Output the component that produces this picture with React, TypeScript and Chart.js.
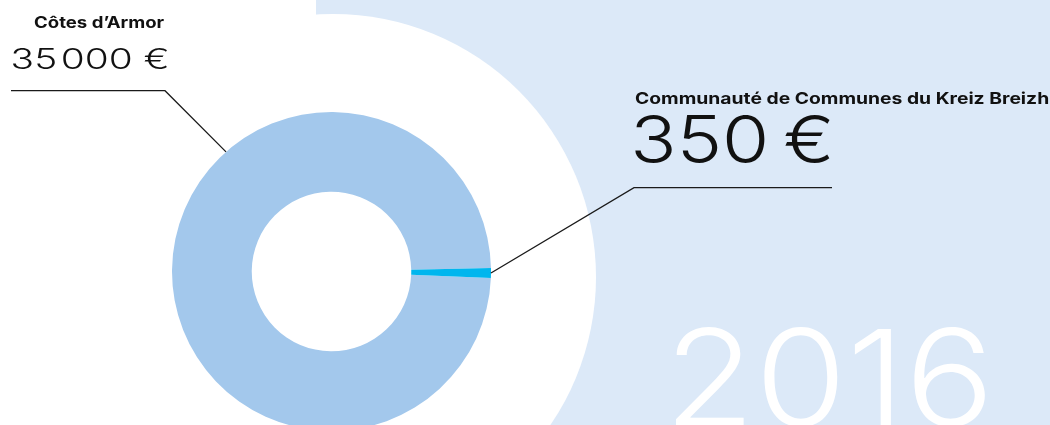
import React, { useEffect, useRef } from "react";
import { Chart, registerables } from "chart.js";

Chart.register(...registerables);

// ---- data ----
const categories = ["Côtes d’Armor", "Communauté de Communes du Kreiz Breizh"];
const amounts = [35000, 350];
const amountLabels = ["35\u200A000 €", "350\u2009€"];
const yearLabel = "2016";
const sliceColors = ["#a3c8ec", "#00b6ee"];

const W = 1050;
const H = 425;
const CANVAS_H = 432;
const BG_BLUE = "#dce9f8";
const LINE = "#1a1a1a";
const LIGHT = '"Inter", "Roboto", "Liberation Sans", sans-serif';
const BOLD = '"Inter", "Liberation Sans", Arial, sans-serif';

// draws text so that its digit/cap ink spans [left,right] x [top,baseline]
function drawFit(
  ctx: CanvasRenderingContext2D,
  text: string,
  weight: string,
  family: string,
  left: number,
  right: number,
  top: number,
  baseline: number,
  color: string
) {
  ctx.save();
  ctx.font = `${weight} 100px ${family}`;
  const probe = ctx.measureText("0");
  const size = (100 * (baseline - top)) / probe.actualBoundingBoxAscent;
  ctx.font = `${weight} ${size}px ${family}`;
  ctx.fillStyle = color;
  ctx.textAlign = "left";
  ctx.textBaseline = "alphabetic";
  const m = ctx.measureText(text);
  const inkW = m.actualBoundingBoxRight + m.actualBoundingBoxLeft;
  const sx = inkW > 0 ? (right - left) / inkW : 1;
  ctx.translate(left, baseline);
  ctx.scale(sx, 1);
  ctx.fillText(text, m.actualBoundingBoxLeft, 0);
  ctx.restore();
}

function drawBold(
  ctx: CanvasRenderingContext2D,
  text: string,
  size: number,
  left: number,
  right: number,
  baseline: number
) {
  ctx.save();
  ctx.font = `bold ${size}px ${BOLD}`;
  ctx.fillStyle = "#111111";
  ctx.textAlign = "left";
  ctx.textBaseline = "alphabetic";
  const m = ctx.measureText(text);
  const inkW = m.actualBoundingBoxRight + m.actualBoundingBoxLeft;
  const sx = inkW > 0 ? (right - left) / inkW : 1;
  ctx.translate(left, baseline);
  ctx.scale(sx, 1);
  ctx.fillText(text, m.actualBoundingBoxLeft, 0);
  ctx.restore();
}

const decorPlugin = {
  id: "decor",
  beforeDraw(chart: any) {
    const ctx: CanvasRenderingContext2D = chart.ctx;
    ctx.save();
    ctx.fillStyle = "#ffffff";
    ctx.fillRect(0, 0, chart.width, chart.height);
    ctx.fillStyle = BG_BLUE;
    ctx.fillRect(316, 0, chart.width - 316, chart.height);
    const arc = chart.getDatasetMeta(0).data[0];
    ctx.fillStyle = "#ffffff";
    ctx.beginPath();
    ctx.arc(arc.x + 1.5, arc.y + 5.5, 263, 0, Math.PI * 2);
    ctx.fill();
    ctx.restore();
    drawFit(ctx, yearLabel, "340", LIGHT, 675, 985, 327, 426, "#ffffff");
  },
  afterDatasetsDraw(chart: any) {
    const ctx: CanvasRenderingContext2D = chart.ctx;
    const meta = chart.getDatasetMeta(0);
    const a0 = meta.data[0];
    const a1 = meta.data[1];
    const r = a0.outerRadius;

    // anchor points on the ring's outer edge
    const ang0 = (-131.4 * Math.PI) / 180;
    const p0x = a0.x + Math.cos(ang0) * r;
    const p0y = a0.y + Math.sin(ang0) * r;
    const ang1 = (a1.startAngle + a1.endAngle) / 2;
    const p1x = a1.x + Math.cos(ang1) * r;
    const p1y = a1.y + Math.sin(ang1) * r;

    ctx.save();
    ctx.strokeStyle = LINE;
    ctx.lineWidth = 1.3;
    ctx.beginPath();
    ctx.moveTo(11, 90.7);
    ctx.lineTo(165, 90.7);
    ctx.lineTo(p0x, p0y);
    ctx.stroke();
    ctx.beginPath();
    ctx.moveTo(p1x, p1y);
    ctx.lineTo(634, 187.7);
    ctx.lineTo(832, 187.7);
    ctx.stroke();
    ctx.restore();

    drawBold(ctx, categories[0], 15.5, 34, 165, 28);
    drawFit(ctx, amountLabels[0], "300", LIGHT, 12, 167, 48.5, 69.3, "#111111");
    drawBold(ctx, categories[1], 16, 635, 1048, 103.5);
    drawFit(ctx, amountLabels[1], "300", LIGHT, 635, 830, 115, 163.3, "#111111");
  },
};

export default function App() {
  const ref = useRef<HTMLCanvasElement | null>(null);

  useEffect(() => {
    document.body.style.margin = "0";
    const canvas = ref.current;
    if (!canvas) return;
    const chart = new Chart(canvas, {
      type: "doughnut",
      data: {
        labels: categories,
        datasets: [
          {
            data: amounts,
            backgroundColor: sliceColors,
            borderWidth: 0,
            hoverOffset: 0,
          },
        ],
      },
      options: {
        responsive: false,
        maintainAspectRatio: false,
        animation: false,
        rotation: 92.3,
        cutout: "50%",
        layout: { padding: { left: 172, right: 559, top: 112, bottom: 1 } },
        plugins: {
          legend: { display: false },
          tooltip: { enabled: false },
        },
        events: [],
      },
      plugins: [decorPlugin],
    });
    return () => chart.destroy();
  }, []);

  return (
    <div style={{ width: W, height: H, overflow: "hidden", position: "relative" }}>
      <canvas ref={ref} width={W} height={CANVAS_H} style={{ width: W, height: CANVAS_H, display: "block" }} />
    </div>
  );
}
